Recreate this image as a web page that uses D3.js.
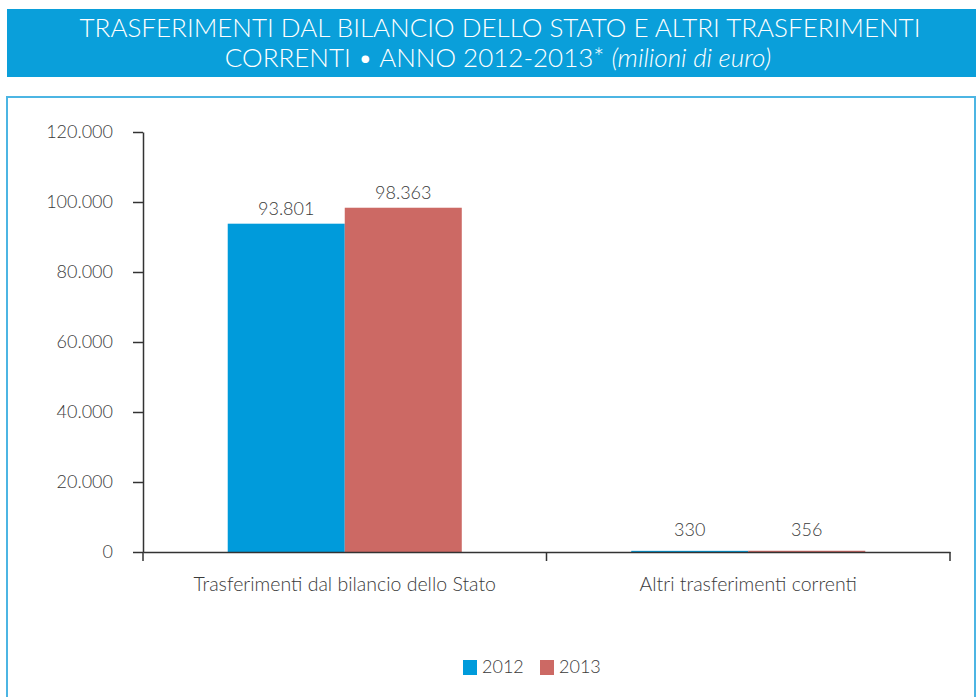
<!DOCTYPE html>
<html>
<head>
<meta charset="utf-8">
<script src="https://cdn.jsdelivr.net/npm/d3@7"></script>
<style>
  body { margin: 0; background: #fff; }
  svg { display: block; font-family: Lato, "Open Sans", sans-serif; }
</style>
</head>
<body>
<svg id="chart" width="976" height="697"></svg>
<script>
// chart data
const categories = ['Trasferimenti dal bilancio dello Stato', 'Altri trasferimenti correnti'];
const years = ['2012', '2013'];
const values2012 = [93801, 330];
const values2013 = [98363, 356];
const yTicks = [0, 20000, 40000, 60000, 80000, 100000, 120000];
const colors = ['#009bdb', '#cc6964'];

const svg = d3.select('#chart');
const fmt = d3.formatLocale({ decimal: ',', thousands: '.', grouping: [3], currency: ['€', ''] }).format(',d');

// title banner
svg.append('rect').attr('x', 7).attr('y', 9).attr('width', 969).attr('height', 68).attr('fill', '#0a9fda');
const title = svg.append('text').attr('fill', '#fff').attr('text-anchor', 'middle')
    .attr('font-size', 26).attr('font-weight', 300);
title.append('tspan').attr('x', 500).attr('y', 37).text('TRASFERIMENTI DAL BILANCIO DELLO STATO E ALTRI TRASFERIMENTI');
const line2 = title.append('tspan').attr('x', 498).attr('y', 67);
line2.append('tspan').text('CORRENTI • ANNO 2012-2013* ');
line2.append('tspan').attr('font-style', 'italic').text('(milioni di euro)');

// frame
svg.append('rect').attr('x', 7).attr('y', 97).attr('width', 968).attr('height', 640)
    .attr('fill', 'none').attr('stroke', '#4cb5e3').attr('stroke-width', 2);

const mLeft = 143, mRight = 950, mTop = 132, mBottom = 552;

const y = d3.scaleLinear().domain([0, 120000]).range([mBottom, mTop]);
const x0 = d3.scaleBand().domain(categories).range([mLeft, mRight]);
const x1 = d3.scaleBand().domain(years).range([0, x0.bandwidth()]).paddingOuter(0.724);

// y axis
const yAxis = svg.append('g').attr('transform', `translate(${mLeft},0)`)
    .call(d3.axisLeft(y).tickValues(yTicks).tickFormat(fmt).tickSize(10).tickPadding(20).tickSizeOuter(0));
yAxis.select('.domain').attr('stroke', '#333').attr('stroke-width', 1.5);
yAxis.selectAll('.tick line').attr('stroke', '#333').attr('stroke-width', 1.5);
yAxis.selectAll('.tick text').attr('fill', '#3a3a3a').attr('font-size', 18).attr('font-family', 'Lato').attr('font-weight', 300);

// bars
const groups = svg.append('g').selectAll('g').data(categories).join('g')
    .attr('transform', d => `translate(${x0(d)},0)`);
const barData = (c, i) => years.map((yr, j) => ({ yr, j, v: [values2012, values2013][j][i] }));
groups.selectAll('rect').data(barData).join('rect')
    .attr('x', d => x1(d.yr)).attr('width', x1.bandwidth())
    .attr('y', d => y(d.v)).attr('height', d => y(0) - y(d.v))
    .attr('fill', d => colors[d.j]);
groups.selectAll('text').data(barData).join('text')
    .attr('x', d => x1(d.yr) + x1.bandwidth() / 2)
    .attr('y', d => Math.min(y(d.v) - 9, mBottom - 16))
    .attr('text-anchor', 'middle').attr('font-size', 18).attr('font-weight', 300).attr('fill', '#3a3a3a')
    .text(d => fmt(d.v));

// x axis
const xAxis = svg.append('g').attr('transform', `translate(0,${mBottom})`)
    .call(d3.axisBottom(x0).tickSize(0).tickPadding(25).tickSizeOuter(0));
xAxis.select('.domain').attr('stroke', '#333').attr('stroke-width', 1.5);
xAxis.selectAll('.tick text').attr('fill', '#3a3a3a').attr('font-size', 19.5).attr('font-family', 'Lato').attr('font-weight', 300);
xAxis.selectAll('.sep').data(d3.range(categories.length + 1)).join('line').attr('class', 'sep')
    .attr('x1', i => mLeft + i * x0.step()).attr('x2', i => mLeft + i * x0.step())
    .attr('y1', 0).attr('y2', 9).attr('stroke', '#333').attr('stroke-width', 1.5);

// legend
const legend = svg.append('g').attr('transform', 'translate(463,660)');
const item = legend.selectAll('g').data(years).join('g').attr('transform', (d, i) => `translate(${i * 77},0)`);
item.append('rect').attr('width', 14).attr('height', 15).attr('fill', (d, i) => colors[i]);
item.append('text').attr('x', 19).attr('y', 13).attr('font-size', 18).attr('font-weight', 300)
    .attr('fill', '#3a3a3a').text(d => d);
</script>
</body>
</html>
